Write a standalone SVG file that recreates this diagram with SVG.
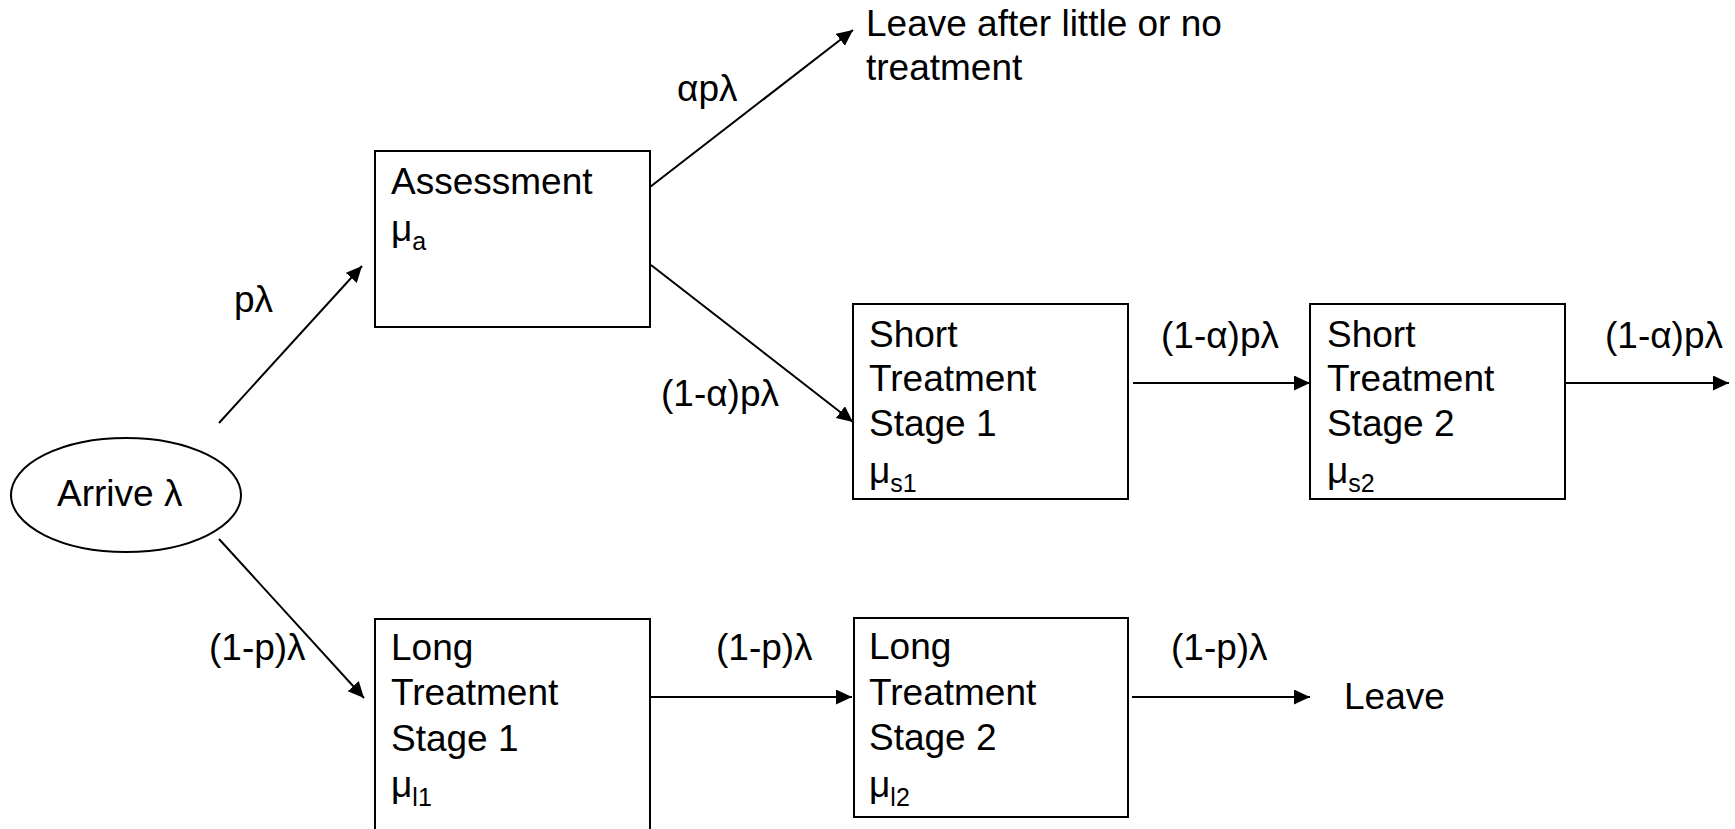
<svg xmlns="http://www.w3.org/2000/svg" width="1735" height="829" viewBox="0 0 1735 829">
<style>
text{font-family:"Liberation Sans",Arial,sans-serif;font-size:37px;fill:#000}
.sub{font-size:25px}
.box{fill:#fff;stroke:#000;stroke-width:2}
.edge{stroke:#000;stroke-width:2;fill:none}
</style>
<defs>
<marker id="ah" markerUnits="userSpaceOnUse" markerWidth="18" markerHeight="16" refX="16" refY="7.5" orient="auto">
<path d="M0,0 L16,7.5 L0,15 z" fill="#000"/>
</marker>
</defs>
<rect width="1735" height="829" fill="#fff"/>
<g id="connectors">
<line class="edge" x1="219" y1="423" x2="362" y2="266" marker-end="url(#ah)"/>
<line class="edge" x1="650" y1="187" x2="853" y2="30" marker-end="url(#ah)"/>
<line class="edge" x1="651" y1="265" x2="853" y2="422" marker-end="url(#ah)"/>
<line class="edge" x1="1133" y1="383" x2="1310" y2="383" marker-end="url(#ah)"/>
<line class="edge" x1="1566" y1="383" x2="1729" y2="383" marker-end="url(#ah)"/>
<line class="edge" x1="219" y1="539" x2="364" y2="698" marker-end="url(#ah)"/>
<line class="edge" x1="651" y1="697" x2="852" y2="697" marker-end="url(#ah)"/>
<line class="edge" x1="1132" y1="697" x2="1310" y2="697" marker-end="url(#ah)"/>
<text x="234" y="312">pλ</text>
<text x="677" y="101">αpλ</text>
<text x="661" y="406">(1-α)pλ</text>
<text x="1161" y="348">(1-α)pλ</text>
<text x="1605" y="348">(1-α)pλ</text>
<text x="209" y="660">(1-p)λ</text>
<text x="716" y="660">(1-p)λ</text>
<text x="1171" y="660">(1-p)λ</text>
</g>
<g id="arrive">
<ellipse cx="126" cy="495" rx="115" ry="57" fill="#fff" stroke="#000" stroke-width="2"/>
<text x="57" y="506">Arrive λ</text>
</g>
<g id="assessment">
<rect class="box" x="375" y="151" width="275" height="176"/>
<text x="391" y="194">Assessment</text>
<text x="391" y="241">μ<tspan class="sub" dy="9">a</tspan></text>
</g>
<g id="leave-early">
<text x="866" y="36">Leave after little or no</text>
<text x="866" y="80">treatment</text>
</g>
<g id="short1">
<rect class="box" x="853" y="304" width="275" height="195"/>
<text x="869" y="347">Short</text>
<text x="869" y="391">Treatment</text>
<text x="869" y="436">Stage 1</text>
<text x="869" y="483">μ<tspan class="sub" dy="9">s1</tspan></text>
</g>
<g id="short2">
<rect class="box" x="1310" y="304" width="255" height="195"/>
<text x="1327" y="347">Short</text>
<text x="1327" y="391">Treatment</text>
<text x="1327" y="436">Stage 2</text>
<text x="1327" y="483">μ<tspan class="sub" dy="9">s2</tspan></text>
</g>
<g id="long1">
<rect class="box" x="375" y="619" width="275" height="230"/>
<text x="391" y="660">Long</text>
<text x="391" y="705">Treatment</text>
<text x="391" y="751">Stage 1</text>
<text x="391" y="797">μ<tspan class="sub" dy="9">l1</tspan></text>
</g>
<g id="long2">
<rect class="box" x="854" y="618" width="274" height="199"/>
<text x="869" y="659">Long</text>
<text x="869" y="705">Treatment</text>
<text x="869" y="750">Stage 2</text>
<text x="869" y="797">μ<tspan class="sub" dy="9">l2</tspan></text>
</g>
<g id="leave">
<text x="1344" y="709">Leave</text>
</g>
</svg>
